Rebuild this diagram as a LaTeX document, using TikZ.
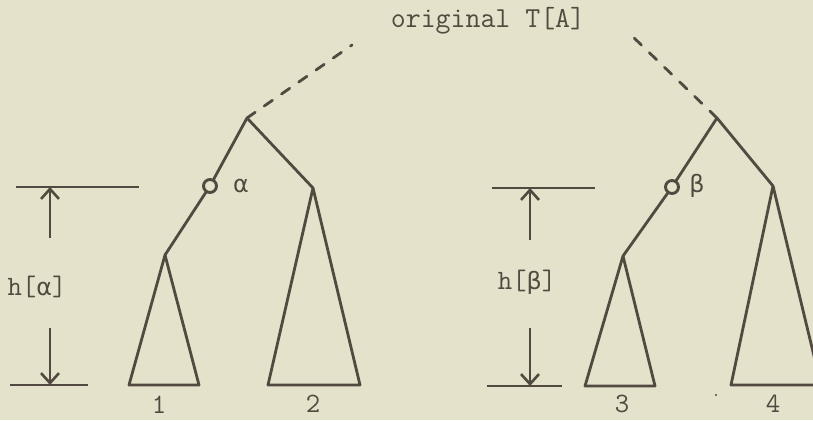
\documentclass[tikz,border=0pt]{standalone}
\usepackage{fontspec}
\newfontfamily\greekfont{DejaVu Sans}[Scale=0.85]
\usetikzlibrary{arrows.meta}
\definecolor{paper}{HTML}{E4E2CB}
\definecolor{ink}{HTML}{524A40}
\begin{document}
\begin{tikzpicture}[x=1pt,y=-1pt,
  edge/.style={draw=ink, line width=2.8pt, line join=round, line cap=round},
  dashedge/.style={draw=ink, line width=2.8pt, line cap=round, dash pattern=on 10pt off 11pt},
  vtx/.style={circle, draw=ink, line width=2.9pt, minimum size=13pt, inner sep=0pt},
  lbl/.style={font=\fontsize{28}{30}\selectfont\ttfamily, text=ink, inner sep=0pt},
  dimline/.style={draw=ink, line width=2.6pt},
  dimarrow/.style={draw=ink, line width=2.6pt, -{Straight Barb[length=10pt,width=18pt,line width=2.6pt]}},
]
\fill[paper] (0,0) rectangle (813,420);
\useasboundingbox (0,0) rectangle (813,420);
\clip (0,0) rectangle (813,420);

% title
\node[lbl, font=\fontsize{29}{31}\selectfont\ttfamily, anchor=base] (title) at (488,28) {original T[A]};

% ---- left tree ----
\coordinate (LT) at (247,118);
\coordinate (LD) at (352,45);
\node[vtx] (A) at (210,186) {};
\coordinate (LL) at (165,255);
\coordinate (LR) at (313,188);
\coordinate (T1a) at (129,385);
\coordinate (T1b) at (199,385);
\coordinate (T2a) at (268,385);
\coordinate (T2b) at (360,385);
\draw[dashedge] (LT) -- (LD);
\draw[edge] (LT) -- (A);
\draw[edge] (A) -- (LL);
\draw[edge] (LT) -- (LR);
\draw[edge] (LL) -- (T1a) -- (T1b) -- cycle;
\draw[edge] (LR) -- (T2a) -- (T2b) -- cycle;
\node[lbl] (alab) at (241,186) {\greekfont α};
\node[lbl] (n1) at (159,405) {1};
\node[lbl] (n2) at (313,404) {2};

% left dimension
\coordinate (DLt1) at (16,187);
\coordinate (DLt2) at (139,187);
\coordinate (DLb1) at (10,385);
\coordinate (DLb2) at (88,385);
\coordinate (DLa1) at (50,238);
\coordinate (DLa2) at (50,187);
\coordinate (DLa3) at (50,328);
\coordinate (DLa4) at (50,385);
\draw[dimline] (DLt1) -- (DLt2);
\draw[dimline] (DLb1) -- (DLb2);
\draw[dimarrow] (DLa1) -- (DLa2);
\draw[dimarrow] (DLa3) -- (DLa4);
\node[lbl] (ha) at (37,287) {h[{\greekfont α}]};

% ---- right tree ----
\coordinate (RT) at (717,118);
\coordinate (RD) at (631,35);
\node[vtx] (B) at (672,187) {};
\coordinate (RL) at (623,256);
\coordinate (RR) at (773,186);
\coordinate (T3a) at (585,386);
\coordinate (T3b) at (655,386);
\coordinate (T4a) at (731,385);
\coordinate (T4b) at (821,385);
\draw[dashedge] (RT) -- (RD);
\draw[edge] (RT) -- (B);
\draw[edge] (B) -- (RL);
\draw[edge] (RT) -- (RR);
\draw[edge] (RL) -- (T3a) -- (T3b) -- cycle;
\draw[edge] (RR) -- (T4a) -- (T4b) -- cycle;
\node[lbl] (blab) at (697,186) {\greekfont β};
\node[lbl] (n3) at (622,404) {3};
\node[lbl] (n4) at (773,404) {4};
\fill[ink] (716,395) circle (1.2pt);

% right dimension
\coordinate (DRt1) at (492,188);
\coordinate (DRt2) at (595,188);
\coordinate (DRb1) at (487,386);
\coordinate (DRb2) at (562,386);
\coordinate (DRa1) at (530,240);
\coordinate (DRa2) at (530,188);
\coordinate (DRa3) at (530,328);
\coordinate (DRa4) at (530,386);
\draw[dimline] (DRt1) -- (DRt2);
\draw[dimline] (DRb1) -- (DRb2);
\draw[dimarrow] (DRa1) -- (DRa2);
\draw[dimarrow] (DRa3) -- (DRa4);
\node[lbl] (hb) at (527,282) {h[{\greekfont β}]};
\end{tikzpicture}
\end{document}
